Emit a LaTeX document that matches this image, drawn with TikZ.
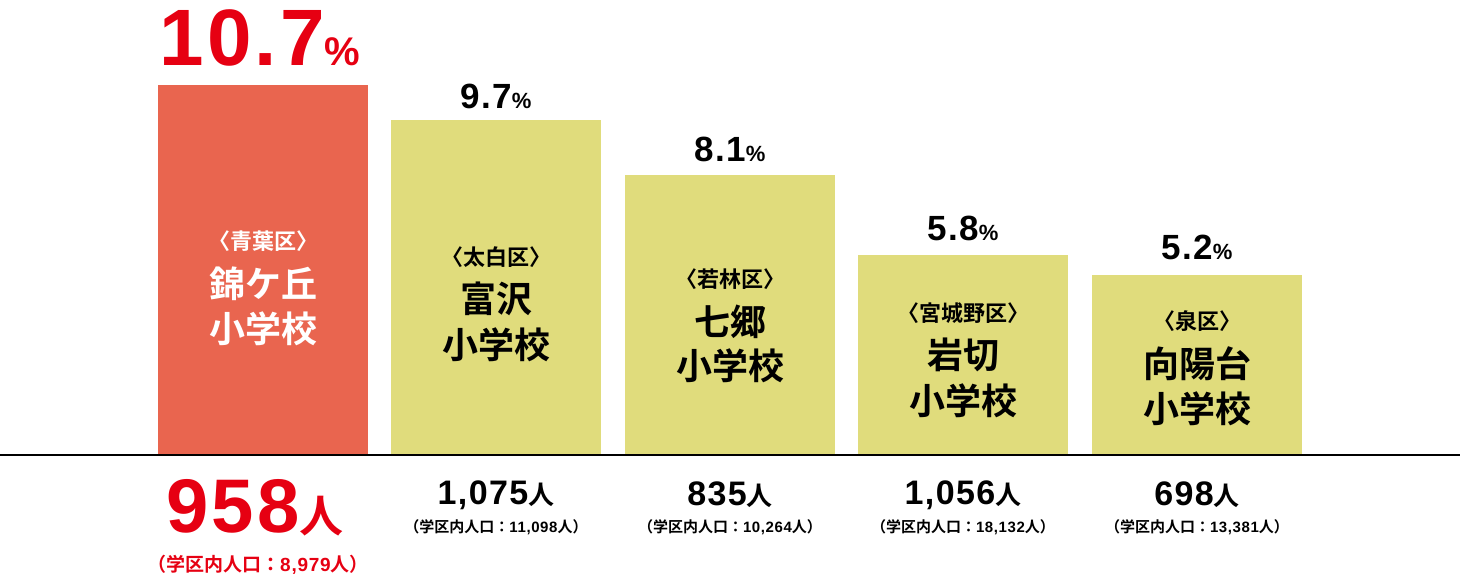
\documentclass[tikz,border=0pt]{standalone}
\usepackage{fontspec}
\setmainfont{Liberation Sans}
\newfontfamily\cjk{Noto Sans CJK JP}[BoldFont={Noto Sans CJK JP Bold}]
\newfontfamily\num{Liberation Sans}[LetterSpace=4]
\definecolor{hot}{HTML}{E9654F}
\definecolor{yel}{HTML}{E0DC7C}
\definecolor{rd}{HTML}{E60012}
\tikzset{x=1pt,y=-1pt,
 t/.style={inner sep=0pt,anchor=center,font=\cjk\bfseries},
}
\newcommand\fs[1]{\fontsize{#1}{#1}\selectfont}
\newcommand\N[1]{{\num\bfseries #1}}
\begin{document}
\begin{tikzpicture}
\useasboundingbox (0,0) rectangle (1460,580);
\fill[hot] (158,85) rectangle (368,455);
\fill[yel] (391,120) rectangle (601,455);
\fill[yel] (625,175) rectangle (835,455);
\fill[yel] (858,255) rectangle (1068,455);
\fill[yel] (1092,275) rectangle (1302,455);
\draw[line width=2pt] (0,455) -- (1460,455);
% percents
\node[t,text=rd] (p1) at (260,38) {\fs{80}\N{10.7}\fs{40}\N{\%}};
\node[t] (p2) at (496,96) {\fs{35}\N{9.7}\fs{22}\N{\%}};
\node[t] (p3) at (730,149) {\fs{35}\N{8.1}\fs{22}\N{\%}};
\node[t] (p4) at (963,228) {\fs{35}\N{5.8}\fs{22}\N{\%}};
\node[t] (p5) at (1197,247) {\fs{35}\N{5.2}\fs{22}\N{\%}};
% bar labels
\node[t,text=white,align=center] (b1) at (263,288) {\fs{22}〈青葉区〉\\[14pt]\fs{36}錦ケ丘\\[10pt]\fs{36}小学校};
\node[t,align=center] (b2) at (496,304) {\fs{22}〈太白区〉\\[14pt]\fs{36}富沢\\[10pt]\fs{36}小学校};
\node[t,align=center] (b3) at (730,326) {\fs{22}〈若林区〉\\[14pt]\fs{36}七郷\\[10pt]\fs{36}小学校};
\node[t,align=center] (b4) at (963,360) {\fs{22}〈宮城野区〉\\[14pt]\fs{36}岩切\\[10pt]\fs{36}小学校};
\node[t,align=center] (b5) at (1197,368) {\fs{22}〈泉区〉\\[14pt]\fs{36}向陽台\\[10pt]\fs{36}小学校};
% counts
\node[t,text=rd] (c1) at (255,508) {\fs{76}\N{958}\fs{44}人};
\node[t,text=rd] (s1) at (258,565) {\fs{19}（学区内人口：\N{8,979}人）};
\node[t] (c2) at (496,495) {\fs{34}\N{1,075}\fs{26}人};
\node[t] (s2) at (496,527) {\fs{15}（学区内人口：\N{11,098}人）};
\node[t] (c3) at (730,495) {\fs{34}\N{835}\fs{26}人};
\node[t] (s3) at (730,527) {\fs{15}（学区内人口：\N{10,264}人）};
\node[t] (c4) at (963,495) {\fs{34}\N{1,056}\fs{26}人};
\node[t] (s4) at (963,527) {\fs{15}（学区内人口：\N{18,132}人）};
\node[t] (c5) at (1197,495) {\fs{34}\N{698}\fs{26}人};
\node[t] (s5) at (1197,527) {\fs{15}（学区内人口：\N{13,381}人）};
\end{tikzpicture}
\end{document}
